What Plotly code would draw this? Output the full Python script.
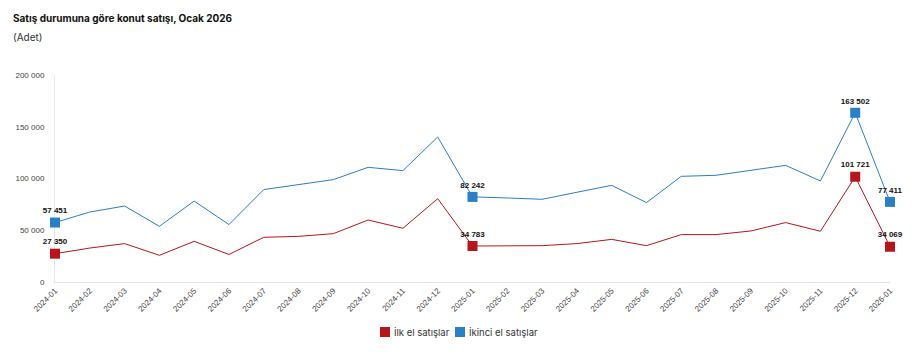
import plotly.graph_objects as go

months = ["2024-01","2024-02","2024-03","2024-04","2024-05","2024-06","2024-07","2024-08",
          "2024-09","2024-10","2024-11","2024-12","2025-01","2025-02","2025-03","2025-04",
          "2025-05","2025-06","2025-07","2025-08","2025-09","2025-10","2025-11","2025-12","2026-01"]
ilk_el = [27350, 32800, 37100, 25800, 39300, 26600, 43200, 44100, 46700, 59900, 51900, 80500,
          34783, 34700, 35100, 37100, 41200, 35100, 45800, 45800, 49300, 57400, 49000, 101721, 34069]
ikinci_el = [57451, 67600, 73400, 53800, 78200, 55500, 89300, 94100, 98900, 110800, 107600, 140100,
             82242, 81200, 79900, 86700, 93400, 76700, 102100, 103100, 107900, 112700, 97600, 163502, 77411]
labeled = ["2024-01", "2025-01", "2025-12", "2026-01"]
names = ["İlk el satışlar", "İkinci el satışlar"]
colors = ["#B5161B", "#2A7FC6"]
title = "Satış durumuna göre konut satışı, Ocak 2026"
subtitle = "(Adet)"
yticks = [0, 50000, 100000, 150000, 200000]

W, H = 919, 355
ML, MR, MT, MB = 55, 29, 75, 73
PW, PH = W - ML - MR, H - MT - MB


def fmt(v):
    return f"{v:,}".replace(",", " ")


def px_x(x):
    return (x - ML) / PW


def px_y(y):
    return (H - MB - y) / PH


fig = go.Figure()
for name, vals, col in zip(names, [ilk_el, ikinci_el], colors):
    sizes = [10 if m in labeled else 0 for m in months]
    texts = [fmt(v) if m in labeled else "" for m, v in zip(months, vals)]
    fig.add_trace(go.Scatter(
        x=months, y=vals, mode="lines+markers+text", name=name, showlegend=False,
        line=dict(color=col, width=1),
        marker=dict(symbol="square", size=sizes, color=col, opacity=1, line=dict(width=0)),
        text=texts, textposition="top center",
        textfont=dict(family="Liberation Sans", size=8, color="#111111", weight="bold"),
        cliponaxis=False, hoverinfo="x+y"))

# legend (drawn manually to match the compact swatch/text spacing)
shapes = []
annotations = [
    dict(text=f"<b>{title}</b>", x=px_x(11), y=px_y(18.5), xref="paper", yref="paper",
         showarrow=False, xanchor="left", yanchor="middle",
         font=dict(family="Inter", size=10, color="#111111")),
    dict(text=subtitle, x=px_x(11), y=px_y(37), xref="paper", yref="paper",
         showarrow=False, xanchor="left", yanchor="middle",
         font=dict(family="Inter", size=10, color="#333333")),
]
leg_x = [380, 455]
leg_y = 332
for name, col, lx in zip(names, colors, leg_x):
    shapes.append(dict(type="rect", xref="paper", yref="paper",
                       x0=px_x(lx), x1=px_x(lx + 10), y0=px_y(leg_y - 5), y1=px_y(leg_y + 5),
                       fillcolor=col, line=dict(width=0), layer="above"))
    annotations.append(dict(text=name, x=px_x(lx + 12), y=px_y(leg_y), xref="paper", yref="paper",
                            showarrow=False, xanchor="left", yanchor="middle",
                            font=dict(family="Inter", size=9.5, color="#333333")))

fig.update_layout(
    width=W, height=H,
    margin=dict(l=ML, r=MR, t=MT, b=MB),
    paper_bgcolor="white", plot_bgcolor="white",
    separators=". ",
    font=dict(family="Liberation Sans", size=8, color="#444444"),
    showlegend=False,
    xaxis=dict(type="category", range=[0, len(months) - 1], tickangle=-45,
               showgrid=False, showline=True, linecolor="#e3e3e3", linewidth=1,
               ticks="", tickfont=dict(family="Liberation Sans", size=8, color="#444444"),
               zeroline=False, layer="below traces"),
    yaxis=dict(range=[0, 200000], tickvals=yticks, tickformat=",d",
               showgrid=False, zeroline=False, showline=True, linecolor="#e8e8e8",
               linewidth=1, ticks="", ticklabelstandoff=8, layer="below traces",
               tickfont=dict(family="Liberation Sans", size=8, color="#444444")),
    shapes=shapes,
    annotations=annotations,
)

fig.write_html("out.html", config={"displayModeBar": False},
               post_script="document.body.style.margin='0';")
